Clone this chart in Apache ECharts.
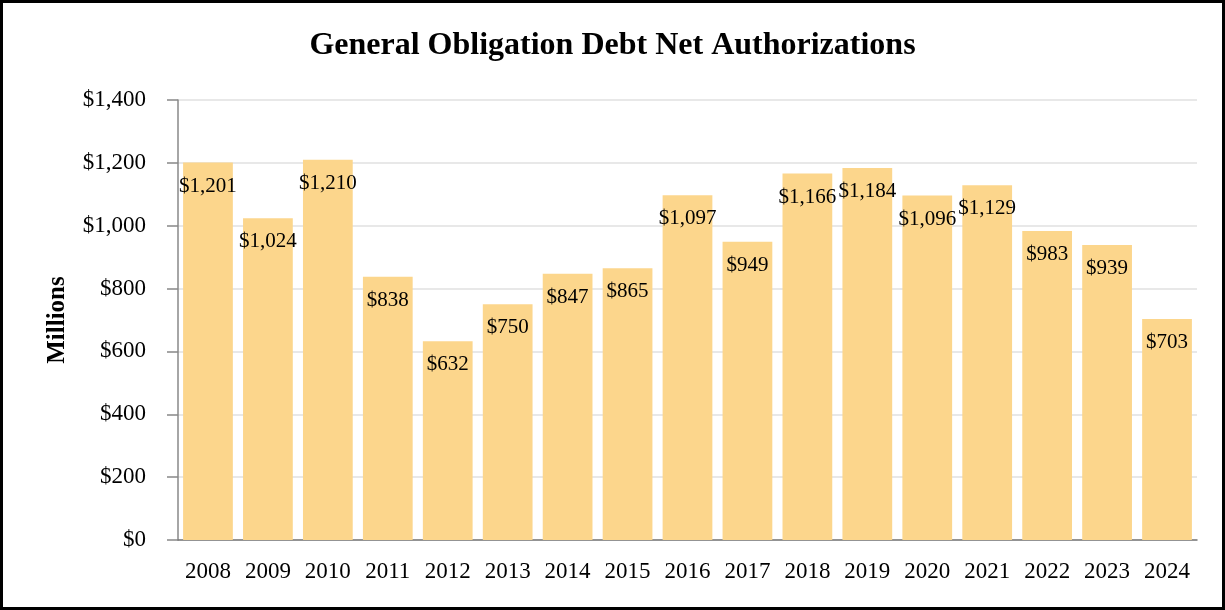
<!DOCTYPE html>
<html>
<head>
<meta charset="utf-8">
<script src="https://cdn.jsdelivr.net/npm/echarts@6/dist/echarts.min.js"></script>
<style>
  html, body { margin: 0; padding: 0; background: #fff; }
  #frame { position: absolute; left: 0; top: 0; width: 1219px; height: 604px; border: 3px solid #000; }
  #chart { position: absolute; left: 0; top: 0; width: 1225px; height: 610px; }
</style>
</head>
<body>
<div id="chart"></div>
<div id="frame"></div>
<script>
// Fiscal years and net authorizations (millions of dollars)
const years = ['2008','2009','2010','2011','2012','2013','2014','2015','2016','2017','2018','2019','2020','2021','2022','2023','2024'];
const authorizations = [1201, 1024, 1210, 838, 632, 750, 847, 865, 1097, 949, 1166, 1184, 1096, 1129, 983, 939, 703];
const yTicks = [0, 200, 400, 600, 800, 1000, 1200, 1400];

const serif = '"Liberation Serif", "Times New Roman", serif';
const fmt = v => '$' + v.toLocaleString('en-US');

const chart = echarts.init(document.getElementById('chart'));
chart.setOption({
  animation: false,
  title: {
    text: 'General Obligation Debt Net Authorizations',
    left: 'center',
    top: 25,
    textStyle: { fontFamily: serif, fontSize: 32, fontWeight: 'bold', color: '#000' }
  },
  grid: { left: 178, right: 28, top: 100, bottom: 70 },
  xAxis: {
    type: 'category',
    data: years,
    axisLine: { lineStyle: { color: '#777', width: 1.5 } },
    axisTick: { alignWithLabel: true, length: 10, lineStyle: { color: '#777', width: 1.5 } },
    axisLabel: { fontFamily: serif, fontSize: 23, color: '#000', margin: 20 }
  },
  yAxis: {
    type: 'value',
    min: yTicks[0],
    max: yTicks[yTicks.length - 1],
    interval: yTicks[1] - yTicks[0],
    name: 'Millions',
    nameLocation: 'middle',
    nameGap: 108,
    nameRotate: 90,
    nameTextStyle: { fontFamily: serif, fontSize: 25, fontWeight: 'bold', color: '#000' },
    axisLine: { show: true, lineStyle: { color: '#888', width: 1.5 } },
    axisTick: { show: true, length: 11, lineStyle: { color: '#888', width: 1.5 } },
    axisLabel: { fontFamily: serif, fontSize: 23, color: '#000', margin: 32, formatter: fmt },
    splitLine: { lineStyle: { color: '#e0e0e0', width: 1.5 } }
  },
  series: [{
    type: 'bar',
    data: authorizations,
    barCategoryGap: '17%',
    itemStyle: { color: '#FCD68C' },
    label: {
      show: true,
      position: 'insideTop',
      distance: 13,
      fontFamily: serif,
      fontSize: 21,
      color: '#000',
      formatter: p => fmt(p.value)
    }
  }]
});
</script>
</body>
</html>
